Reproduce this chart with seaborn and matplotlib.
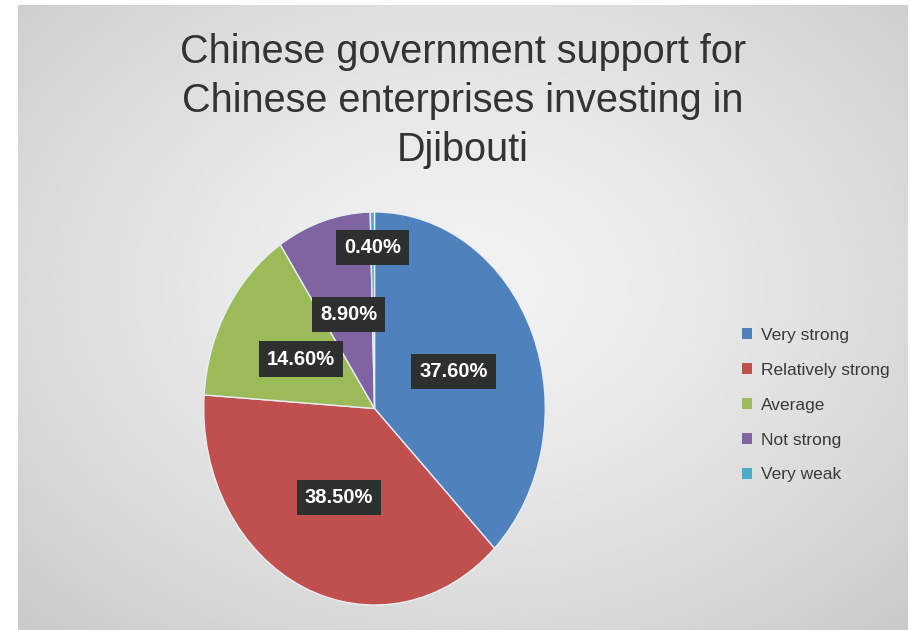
import numpy as np
import matplotlib
matplotlib.use("Agg")
import matplotlib.pyplot as plt
import seaborn as sns

# Survey responses
categories = ["Very strong", "Relatively strong", "Average", "Not strong", "Very weak"]
shares = [37.6, 38.5, 14.6, 8.9, 0.4]
title_lines = ["Chinese government support for",
               "Chinese enterprises investing in",
               "Djibouti"]

sns.set_theme(style="white")
plt.rcParams["font.family"] = ["Liberation Sans", "DejaVu Sans"]

colors = ["#4F81BD", "#C0504D", "#9BBB59", "#8064A2", "#4BACC6"]
label_dist = [0.5, 0.5, 0.5, 0.5, 0.82]

W, H = 910, 630
fig = plt.figure(figsize=(W / 100, H / 100), dpi=100)
fig.patch.set_facecolor("white")

# Chart area with a soft radial gradient
bg = fig.add_axes([18 / W, 0, 890 / W, 625 / H])
yy, xx = np.mgrid[0:1:200j, 0:1:300j]
r = np.sqrt(((xx - 0.5) / 0.75) ** 2 + ((yy - 0.45) / 0.8) ** 2)
shade = np.clip(0.95 - 0.17 * r ** 1.4, 0.76, 0.95)
bg.imshow(shade, cmap="gray", vmin=0, vmax=1, aspect="auto",
          extent=[0, 1, 0, 1], origin="upper", interpolation="bilinear")
bg.set_axis_off()

# Pie, stretched vertically
ax = fig.add_axes([202 / W, (H - 607) / H, 345 / W, 397 / H])
wedges, _ = ax.pie(shares, colors=colors, startangle=90, counterclock=False,
                   radius=1.0,
                   wedgeprops=dict(edgecolor="#e8eef4", linewidth=1.0))
ax.set_aspect("auto")
ax.set_xlim(-1.01, 1.01)
ax.set_ylim(-1.01, 1.01)

start = 90.0
for val, d in zip(shares, label_dist):
    sweep = val / sum(shares) * 360.0
    mid = np.deg2rad(start - sweep / 2)
    start -= sweep
    ax.text(d * np.cos(mid), d * np.sin(mid), f"{val:.2f}%",
            ha="center", va="center", color="white", fontsize=14.5,
            fontweight="bold",
            bbox=dict(boxstyle="square,pad=0.4", facecolor="#2e302f",
                      edgecolor="none"))

fig.text(463 / W, 1 - 101 / H, "\n".join(title_lines), ha="center",
         va="center", fontsize=28.5, color="#333333", linespacing=1.38)

handles = [plt.Rectangle((0, 0), 1, 1, facecolor=c, edgecolor="none")
           for c in colors]
fig.legend(handles, categories, loc="upper left",
           bbox_to_anchor=(726 / W, 1 - 312 / H), frameon=False,
           fontsize=12.5, handlelength=0.6, handleheight=0.6,
           handletextpad=0.5, labelspacing=1.15, labelcolor="#3a3a3a")

fig.savefig("out.png", dpi=100)
